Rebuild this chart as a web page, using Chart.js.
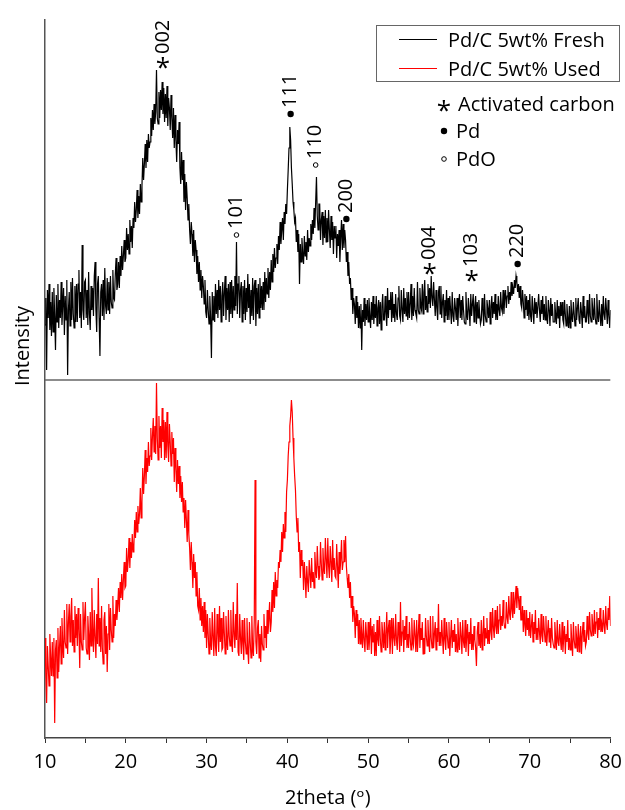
<!DOCTYPE html>
<html>
<head>
<meta charset="utf-8">
<title>XRD Pd/C 5wt%</title>
<script src="https://cdn.jsdelivr.net/npm/chart.js@4.4.1/dist/chart.umd.min.js"></script>
<style>
  html, body { margin: 0; padding: 0; background: #fff; }
  #wrap { width: 625px; height: 810px; }
</style>
</head>
<body>
<div id="wrap"><canvas id="xrdChart" width="625" height="810"></canvas></div>
<script>
// scan grid (degrees 2theta)
const thetaStart = 10;
const thetaStep = 0.1;

// Pd/C 5wt% Fresh, intensity a.u. (one row = 1 degree)
const freshIntensity = [
  55, 82, 10, 90, 62, 96, 50, 78, 44, 88,
  48, 92, 64, 30, 85, 58, 96, 52, 80, 62,
  98, 55, 76, 92, 45, 84, 60, 100, 5, 70,
  88, 54, 98, 60, 102, 66, 52, 94, 58, 96,
  58, 96, 110, 62, 88, 52, 135, 70, 60, 98,
  100, 62, 90, 55, 108, 66, 50, 94, 70, 92,
  64, 104, 118, 70, 48, 96, 104, 62, 24, 88,
  96, 64, 100, 60, 112, 74, 66, 102, 70, 98,
  66, 104, 78, 72, 110, 82, 80, 106, 122, 90,
  96, 118, 92, 124, 104, 134, 110, 124, 140, 118,
  122, 152, 130, 146, 126, 160, 138, 154, 132, 162,
  152, 178, 158, 170, 190, 162, 184, 166, 196, 178,
  194, 222, 200, 216, 236, 212, 240, 218, 246, 232,
  238, 262, 244, 270, 250, 276, 256, 268, 310, 262,
  256, 288, 262, 290, 270, 298, 266, 292, 258, 286,
  262, 294, 254, 282, 272, 250, 285, 262, 242, 272,
  232, 265, 240, 218, 250, 236, 258, 212, 196, 228,
  200, 220, 178, 206, 170, 198, 182, 160, 176, 150,
  136, 158, 146, 124, 150, 118, 140, 130, 106, 124,
  98, 118, 90, 110, 82, 104, 94, 76, 100, 68,
  62, 90, 70, 56, 84, 62, 22, 88, 60, 84,
  58, 96, 66, 90, 62, 100, 70, 94, 58, 84,
  98, 64, 88, 104, 60, 92, 70, 96, 58, 98,
  66, 100, 62, 94, 70, 104, 74, 138, 66, 96,
  104, 62, 90, 98, 58, 94, 66, 100, 60, 92,
  68, 106, 72, 96, 56, 90, 64, 102, 60, 94,
  100, 54, 92, 66, 96, 62, 102, 72, 94, 70,
  98, 70, 108, 78, 102, 86, 112, 82, 108, 90,
  120, 98, 126, 108, 132, 112, 122, 136, 116, 144,
  130, 158, 136, 150, 162, 140, 168, 156, 176, 166,
  190, 210, 232, 253, 240, 212, 196, 178, 170, 158,
  162, 138, 150, 128, 146, 96, 136, 118, 142, 126,
  116, 144, 124, 138, 120, 150, 128, 142, 134, 156,
  140, 160, 146, 172, 152, 178, 203, 164, 150, 176,
  176, 140, 160, 168, 135, 164, 142, 170, 138, 162,
  138, 170, 150, 132, 164, 140, 158, 126, 154, 142,
  154, 122, 146, 134, 150, 118, 142, 160, 130, 156,
  132, 150, 140, 118, 128, 104, 118, 96, 102, 80,
  92, 66, 82, 76, 56, 84, 62, 78, 52, 74,
  52, 76, 30, 70, 58, 82, 54, 76, 60, 80,
  58, 82, 64, 52, 78, 60, 84, 56, 76, 62,
  84, 54, 72, 80, 56, 78, 50, 74, 86, 60,
  60, 84, 66, 54, 92, 62, 80, 70, 88, 58,
  88, 62, 76, 58, 86, 66, 60, 82, 94, 64,
  60, 90, 70, 58, 92, 66, 82, 64, 88, 60,
  88, 62, 76, 96, 60, 84, 64, 92, 70, 66,
  62, 98, 70, 66, 92, 74, 70, 96, 66, 88,
  100, 70, 84, 68, 96, 76, 92, 72, 104, 82,
  74, 98, 80, 64, 90, 72, 60, 88, 94, 66,
  94, 62, 78, 86, 58, 80, 64, 90, 60, 82,
  60, 84, 70, 56, 88, 64, 58, 82, 72, 60,
  82, 54, 76, 86, 62, 80, 60, 84, 70, 58,
  56, 88, 66, 60, 82, 70, 54, 86, 64, 76,
  86, 58, 74, 84, 56, 78, 62, 80, 66, 56,
  60, 82, 70, 54, 86, 64, 58, 80, 72, 62,
  80, 56, 74, 84, 62, 78, 66, 86, 60, 76,
  60, 84, 70, 64, 88, 72, 68, 90, 66, 82,
  90, 72, 84, 94, 76, 88, 80, 98, 84, 92,
  86, 100, 92, 104, 98, 88, 96, 82, 94, 76,
  72, 90, 78, 62, 86, 70, 84, 64, 80, 60,
  86, 64, 58, 84, 70, 56, 82, 66, 78, 62,
  62, 86, 70, 58, 80, 66, 84, 60, 76, 60,
  84, 62, 56, 80, 70, 54, 82, 64, 76, 58,
  58, 78, 66, 56, 80, 62, 74, 52, 78, 64,
  78, 60, 56, 80, 66, 54, 76, 62, 52, 74,
  52, 80, 64, 58, 78, 66, 54, 82, 60, 72,
  82, 60, 56, 78, 68, 52, 84, 62, 74, 58,
  58, 80, 66, 56, 86, 64, 58, 82, 70, 60,
  82, 62, 56, 86, 66, 58, 80, 64, 54, 76,
  54, 84, 66, 60, 82, 70, 56, 80, 64, 52,
  70
];

// Pd/C 5wt% Used, intensity a.u.
const usedIntensity = [
  100, 64, 35, 92, 72, 52, 104, 80, 62, 96,
  62, 100, 15, 88, 98, 60, 110, 66, 92, 112,
  74, 120, 92, 80, 128, 96, 90, 134, 84, 116,
  134, 96, 122, 140, 92, 118, 86, 132, 100, 124,
  92, 130, 108, 70, 124, 96, 88, 136, 98, 120,
  136, 90, 84, 122, 104, 78, 126, 92, 150, 110,
  86, 128, 100, 80, 124, 94, 160, 92, 120, 86,
  132, 90, 74, 118, 126, 84, 112, 66, 104, 134,
  88, 130, 108, 96, 142, 100, 124, 112, 138, 118,
  132, 150, 126, 156, 140, 164, 138, 158, 176, 150,
  152, 190, 166, 178, 200, 170, 196, 180, 204, 186,
  192, 218, 200, 226, 206, 232, 214, 224, 250, 220,
  236, 270, 244, 262, 288, 254, 280, 266, 296, 272,
  282, 310, 278, 302, 320, 286, 312, 284, 355, 300,
  278, 322, 290, 312, 280, 330, 296, 318, 278, 316,
  280, 326, 292, 276, 314, 296, 272, 306, 284, 300,
  256, 290, 270, 246, 278, 254, 272, 240, 262, 236,
  256, 226, 240, 210, 238, 218, 196, 228, 204, 190,
  168, 196, 176, 150, 184, 160, 176, 142, 166, 132,
  128, 150, 118, 140, 112, 132, 106, 136, 100, 128,
  90, 124, 104, 84, 120, 96, 88, 126, 100, 82,
  130, 92, 82, 124, 106, 86, 132, 96, 120, 88,
  90, 126, 104, 84, 122, 98, 88, 128, 102, 92,
  128, 96, 86, 136, 104, 90, 124, 98, 155, 86,
  82, 124, 100, 84, 118, 94, 78, 120, 96, 84,
  120, 88, 74, 116, 96, 80, 122, 90, 82, 118,
  258, 96, 84, 110, 118, 80, 104, 76, 112, 94,
  88, 124, 100, 112, 90, 128, 104, 118, 136, 106,
  116, 148, 126, 156, 130, 166, 142, 158, 150, 176,
  170, 188, 176, 206, 186, 214, 200, 226, 206, 246,
  258, 282, 296, 312, 322, 338, 326, 300, 280, 262,
  248, 222, 206, 220, 186, 196, 160, 188, 172, 178,
  148, 176, 160, 140, 172, 156, 146, 178, 164, 150,
  180, 156, 166, 150, 186, 168, 160, 192, 172, 158,
  162, 196, 174, 158, 190, 170, 164, 200, 178, 160,
  200, 172, 160, 192, 176, 156, 198, 168, 180, 162,
  160, 194, 172, 150, 186, 164, 178, 198, 168, 176,
  198, 176, 202, 172, 160, 150, 164, 140, 156, 130,
  142, 116, 132, 124, 100, 128, 112, 124, 94, 118,
  94, 120, 104, 90, 118, 98, 86, 116, 102, 88,
  116, 88, 104, 120, 84, 112, 96, 114, 82, 106,
  82, 118, 98, 92, 122, 100, 86, 116, 104, 90,
  116, 88, 104, 126, 90, 110, 118, 84, 100, 120,
  84, 120, 100, 92, 124, 98, 88, 116, 104, 86,
  136, 92, 106, 118, 86, 112, 98, 122, 90, 104,
  90, 116, 100, 88, 120, 96, 92, 118, 102, 86,
  118, 86, 104, 124, 90, 110, 98, 116, 84, 100,
  84, 120, 102, 92, 118, 96, 86, 122, 100, 90,
  122, 90, 104, 116, 88, 110, 96, 134, 92, 106,
  92, 118, 100, 84, 120, 98, 88, 116, 102, 90,
  116, 82, 100, 118, 90, 108, 96, 114, 86, 104,
  86, 120, 98, 88, 116, 102, 84, 118, 96, 90,
  118, 86, 102, 114, 82, 106, 94, 120, 88, 104,
  88, 112, 98, 90, 72, 106, 116, 92, 104, 90,
  118, 88, 104, 122, 92, 110, 100, 120, 94, 108,
  94, 126, 106, 98, 130, 110, 100, 128, 112, 104,
  132, 104, 118, 134, 108, 122, 112, 138, 116, 110,
  110, 136, 120, 114, 142, 124, 118, 146, 128, 120,
  146, 124, 138, 152, 130, 150, 140, 128, 142, 118,
  118, 132, 106, 128, 112, 102, 128, 108, 120, 102,
  126, 100, 112, 124, 96, 116, 104, 128, 98, 110,
  98, 120, 106, 94, 124, 102, 96, 122, 108, 96,
  122, 92, 106, 118, 96, 110, 90, 120, 100, 94,
  90, 116, 100, 88, 118, 96, 92, 114, 98, 88,
  116, 86, 100, 112, 84, 104, 96, 118, 88, 100,
  88, 114, 96, 82, 116, 98, 90, 112, 100, 86,
  114, 86, 100, 112, 84, 104, 116, 96, 108, 92,
  96, 122, 104, 98, 126, 108, 102, 124, 112, 102,
  128, 104, 116, 126, 100, 120, 108, 130, 106, 114,
  106, 128, 112, 104, 132, 114, 108, 130, 118, 142,
  112
];

const xTickValues = [10, 15, 20, 25, 30, 35, 40, 45, 50, 55, 60, 65, 70, 75, 80];
const xTickLabels = [10, 20, 30, 40, 50, 60, 70, 80];

// reflections marked on the fresh pattern
const peakLabels = ['002', '101', '111', '110', '200', '004', '103', '220'];
const peakPhases = ['C', 'PdO', 'Pd', 'PdO', 'Pd', 'C', 'C', 'Pd'];
const peakPositions = [24.6, 33.7, 40.4, 43.5, 47.3, 57.6, 62.8, 68.5];

const seriesNames = ['Pd/C 5wt% Fresh', 'Pd/C 5wt% Used'];

// fresh pattern is stacked above the used one
const stackOffset = 358;
const labelLevels = [671, 499, 620, 569, 515, 465, 458, 470];

const FONT = "'Open Sans', 'DejaVu Sans', sans-serif";

function toPoints(values, offset) {
  return values.map((v, i) => ({ x: thetaStart + i * thetaStep, y: v + offset }));
}

function drawSymbol(ctx, phase, x, y) {
  ctx.beginPath();
  if (phase === 'Pd') {
    ctx.arc(x, y, 3.2, 0, Math.PI * 2);
    ctx.fill();
  } else if (phase === 'PdO') {
    ctx.lineWidth = 1;
    ctx.arc(x, y, 2.3, 0, Math.PI * 2);
    ctx.stroke();
  } else {
    // asterisk glyph sits ~0.6em above the baseline
    ctx.save();
    ctx.font = '26px ' + FONT;
    ctx.textAlign = 'center';
    ctx.textBaseline = 'alphabetic';
    ctx.fillText('*', x, y + 15);
    ctx.restore();
  }
}

const marksPlugin = {
  id: 'xrdMarks',
  afterDatasetsDraw(chart) {
    const { ctx } = chart;
    const xs = chart.scales.x, ys = chart.scales.y;
    ctx.save();
    ctx.fillStyle = '#000';
    ctx.strokeStyle = '#000';
    ctx.font = '20px ' + FONT;

    // peak labels, rotated
    peakLabels.forEach((lab, i) => {
      const px = xs.getPixelForValue(peakPositions[i]);
      const py = ys.getPixelForValue(labelLevels[i]);
      let start;
      if (peakPhases[i] === 'C') {
        drawSymbol(ctx, 'C', px, py - 6);
        start = py - 13;
      } else {
        drawSymbol(ctx, peakPhases[i], px, py - 4);
        start = py - 10;
      }
      ctx.save();
      ctx.translate(px, start);
      ctx.rotate(-Math.PI / 2);
      ctx.textAlign = 'left';
      ctx.textBaseline = 'middle';
      ctx.fillText(lab, 0, 0);
      ctx.restore();
    });

    // y title
    ctx.save();
    ctx.translate(23, 346);
    ctx.rotate(-Math.PI / 2);
    ctx.textAlign = 'center';
    ctx.textBaseline = 'middle';
    ctx.fillText('Intensity', 0, 0);
    ctx.restore();

    // legend box
    ctx.lineWidth = 1;
    ctx.strokeStyle = '#666';
    ctx.strokeRect(376.5, 25.5, 243, 56);
    ctx.textAlign = 'left';
    ctx.textBaseline = 'alphabetic';
    const legendColors = ['#000', '#ff0000'];
    seriesNames.forEach((name, i) => {
      const ly = 39 + i * 29;
      ctx.strokeStyle = legendColors[i];
      ctx.beginPath();
      ctx.moveTo(399, ly + 0.5);
      ctx.lineTo(437, ly + 0.5);
      ctx.stroke();
      ctx.fillStyle = '#000';
      ctx.fillText(name, 448, ly + 8);
    });

    // phase key
    ctx.strokeStyle = '#000';
    drawSymbol(ctx, 'C', 444, 104);
    ctx.fillText('Activated carbon', 458, 111);
    drawSymbol(ctx, 'Pd', 444, 131);
    ctx.fillText('Pd', 456, 138);
    drawSymbol(ctx, 'PdO', 444, 159);
    ctx.fillText('PdO', 456, 166);

    ctx.restore();
  }
};

function buildChart() {
  const ctx = document.getElementById('xrdChart').getContext('2d');
  new Chart(ctx, {
    type: 'line',
    data: {
      datasets: [
        {
          label: seriesNames[0],
          data: toPoints(freshIntensity, stackOffset),
          borderColor: '#000',
          borderWidth: 1.2,
          pointRadius: 0,
          fill: false
        },
        {
          label: seriesNames[1],
          data: toPoints(usedIntensity, 0),
          borderColor: '#ff0000',
          borderWidth: 1.2,
          pointRadius: 0,
          fill: false
        },
        {
          label: 'divider',
          data: [{ x: 10, y: stackOffset }, { x: 80, y: stackOffset }],
          borderColor: '#666',
          borderWidth: 1.5,
          pointRadius: 0,
          fill: false
        }
      ]
    },
    options: {
      responsive: false,
      animation: false,
      devicePixelRatio: 1,
      layout: { padding: { left: 45, right: 8, top: 20, bottom: 0 } },
      plugins: { legend: { display: false }, tooltip: { enabled: false } },
      scales: {
        x: {
          type: 'linear',
          min: 10,
          max: 80,
          afterBuildTicks: (scale) => { scale.ticks = xTickValues.map(v => ({ value: v })); },
          ticks: {
            autoSkip: false,
            maxRotation: 0,
            padding: 3,
            color: '#000',
            font: { size: 20, family: FONT, lineHeight: 1.6 },
            callback: (v) => xTickLabels.includes(v) ? String(v) : ''
          },
          grid: { display: true, drawOnChartArea: false, drawTicks: true, tickLength: 5, color: '#333' },
          border: { display: true, color: '#444', width: 1.5 },
          title: {
            display: true,
            text: '2theta (\u1D52)',
            color: '#000',
            font: { size: 20, family: FONT },
            padding: { top: 5, bottom: 0 }
          }
        },
        y: {
          type: 'linear',
          min: 0,
          max: 718,
          ticks: { display: false },
          grid: { display: false, drawTicks: false },
          border: { display: true, color: '#555', width: 1.5 }
        }
      }
    },
    plugins: [marksPlugin]
  });
}

document.fonts.load('20px "Open Sans"').then(buildChart, buildChart);
</script>
</body>
</html>
